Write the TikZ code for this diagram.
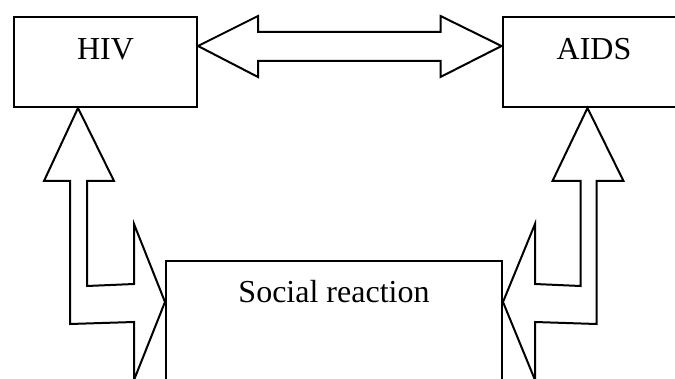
\documentclass[tikz,border=0pt]{standalone}
\usepackage{fontspec}
\setmainfont{Liberation Serif}
\usetikzlibrary{calc}
\begin{document}
\begin{tikzpicture}[x=1pt,y=-1pt,
  boxnode/.style={draw, line width=2pt, inner sep=0pt, minimum width=183pt,
    font=\fontsize{32}{38}\selectfont, text height=20pt},
  arrowshape/.style={draw, line width=2pt, line join=miter}]
\useasboundingbox (0,0) rectangle (675,379);
\begin{scope}
\clip (0,0) rectangle (675,379);
\node[boxnode, minimum height=90pt, text depth=24pt] (hiv) at (105.5,62) {HIV};
\node[boxnode, minimum height=90pt, text depth=24pt] (aids) at (594,62) {AIDS};
\node[boxnode, minimum width=336pt, minimum height=140pt, text depth=76pt] (social) at (334,331) {Social reaction};
% horizontal double arrow
\coordinate (L) at ($(hiv.north east)+(0,30)$);
\coordinate (R) at ($(aids.north west)+(0,30)$);
\draw[arrowshape] (L) -- ($(L)+(60,-30)$) -- ($(L)+(60,-14)$) -- ($(R)+(-61,-14)$)
  -- ($(R)+(-61,-30)$) -- (R) -- ($(R)+(-61,31)$) -- ($(R)+(-61,15)$)
  -- ($(L)+(60,15)$) -- ($(L)+(60,31)$) -- cycle;
% left bent double arrow
\coordinate (T1) at ($(hiv.south west)+(65,0)$);
\coordinate (S1) at ($(social.north west)+(0,42)$);
\draw[arrowshape] (T1) -- ($(T1)+(36,73)$) -- ($(T1)+(9,73)$) -- ($(T1)+(9,178)$)
  -- ($(S1)+(-31,-18)$) -- ($(S1)+(-31,-78)$) -- (S1) -- ($(S1)+(-31,78)$)
  -- ($(S1)+(-31,20)$) -- ($(T1)+(-8,216)$) -- ($(T1)+(-8,73)$) -- ($(T1)+(-34,73)$) -- cycle;
% right bent double arrow
\coordinate (T2) at ($(aids.south west)+(86,0)$);
\coordinate (S2) at ($(social.north east)+(0,42)$);
\draw[arrowshape] (T2) -- ($(T2)+(36,73)$) -- ($(T2)+(9,73)$) -- ($(T2)+(9,216)$)
  -- ($(S2)+(32,20)$) -- ($(S2)+(32,78)$) -- (S2) -- ($(S2)+(32,-78)$)
  -- ($(S2)+(32,-18)$) -- ($(T2)+(-7,178)$) -- ($(T2)+(-7,73)$) -- ($(T2)+(-35,73)$) -- cycle;
\end{scope}
\end{tikzpicture}
\end{document}
